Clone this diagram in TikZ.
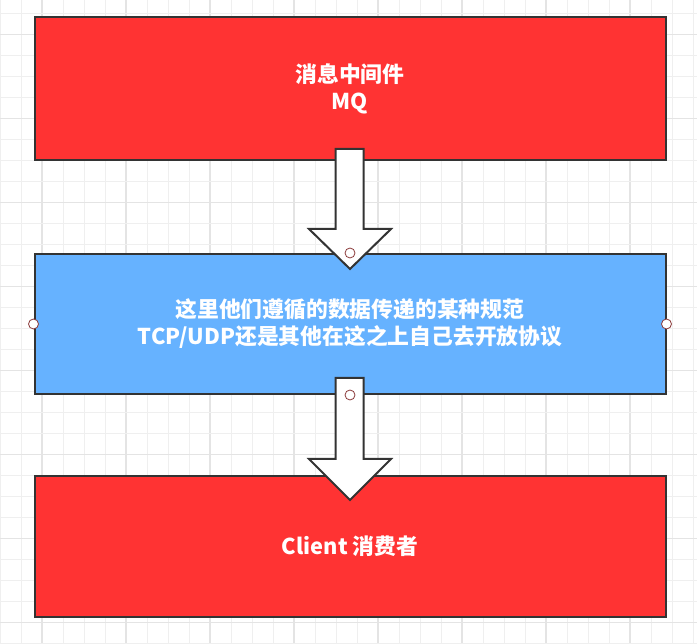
\documentclass[tikz,border=0pt]{standalone}
\usepackage{fontspec}
\setmainfont{Noto Sans CJK SC}
\usetikzlibrary{calc}
\definecolor{boxred}{HTML}{FF3333}
\definecolor{boxblue}{HTML}{66B2FF}
\definecolor{edge}{HTML}{333333}
\definecolor{gridminor}{HTML}{EFEFEF}
\definecolor{gridmajor}{HTML}{E4E4E4}
\definecolor{pointred}{HTML}{8B3A3A}
\tikzset{
  box/.style={draw=edge, line width=2pt, minimum width=631pt, inner sep=0pt,
    text=white, font=\fontsize{21.8pt}{27pt}\selectfont\bfseries, align=center},
  redbox/.style={box, fill=boxred},
  bluebox/.style={box, fill=boxblue},
  blockarrow/.style={draw=edge, fill=white, line width=2pt, line join=miter},
  cpoint/.style={circle, draw=pointred, fill=white, line width=0.8pt, minimum size=10pt, inner sep=0pt},
}
\begin{document}
\begin{tikzpicture}[x=1pt,y=-1pt]
\useasboundingbox (0,0) rectangle (697,644);
\fill[white] (0,0) rectangle (697,644);
% grid
\foreach \k in {0,...,33}{
  \pgfmathtruncatemacro{\m}{mod(\k,4)}
  \ifnum\m=2
    \draw[gridmajor, line width=1.3pt] (21*\k,0) -- (21*\k,644);
  \else
    \draw[gridminor, line width=1pt] (21*\k,0) -- (21*\k,644);
  \fi
}
\foreach \k in {0,...,30}{
  \pgfmathtruncatemacro{\m}{mod(\k,4)}
  \ifnum\m=1
    \draw[gridmajor, line width=1.3pt] (0,13.7+21*\k) -- (697,13.7+21*\k);
  \else
    \draw[gridminor, line width=1pt] (0,13.7+21*\k) -- (697,13.7+21*\k);
  \fi
}
% boxes
\node[redbox, minimum height=142.5pt] (mq) at (350,88.75) {消息中间件\\MQ};
\node[bluebox, minimum height=140pt] (spec) at (350,324) {这里他们遵循的数据传递的某种规范\\TCP/UDP还是其他在这之上自己去开放协议};
\node[redbox, minimum height=140.7pt] (client) at (350,546.35) {Client 消费者};
% block arrows
\coordinate (a1) at (349.5,149);
\coordinate (a1tip) at (350,269);
\draw[blockarrow] ($(a1)+(-14,0)$) -- ($(a1)+(14,0)$) -- ($(a1)+(14,80)$) -- ($(a1)+(41.5,80)$)
  -- (a1tip) -- ($(a1)+(-40.5,80)$) -- ($(a1)+(-14,80)$) -- cycle;
\coordinate (a2) at (349.5,378);
\coordinate (a2tip) at (350,500);
\draw[blockarrow] ($(a2)+(-14,0)$) -- ($(a2)+(14,0)$) -- ($(a2)+(14,81)$) -- ($(a2)+(41.5,81)$)
  -- (a2tip) -- ($(a2)+(-40.5,81)$) -- ($(a2)+(-14,81)$) -- cycle;
% connection points of selected box
\node[cpoint] (pn) at (spec.north) {};
\node[cpoint] (ps) at (spec.south) {};
\node[cpoint] (pw) at (spec.west) {};
\node[cpoint] (pe) at (spec.east) {};
\end{tikzpicture}
\end{document}
